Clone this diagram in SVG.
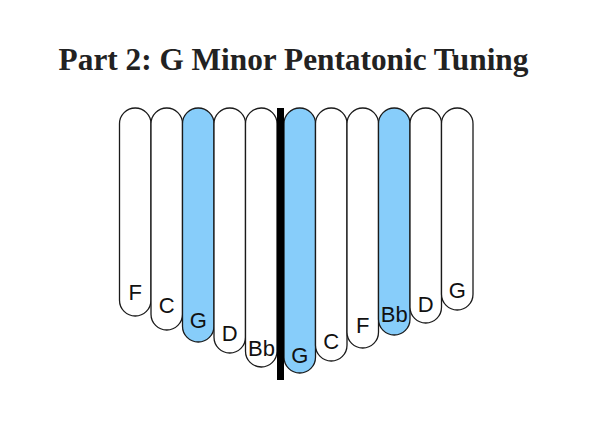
<svg xmlns="http://www.w3.org/2000/svg" width="600" height="425" viewBox="0 0 600 425">
<style>
.tine{stroke:#1a1a1a;stroke-width:1.3;fill:#ffffff}
.blue{fill:#87cdfa}
.lbl{font-family:"Liberation Sans",Arial,sans-serif;font-size:22px;fill:#111;text-anchor:middle}
.title{font-family:"Liberation Serif","Times New Roman",serif;font-size:31.3px;font-weight:bold;fill:#222;text-anchor:middle}
</style>
<rect width="600" height="425" fill="#ffffff"/>
<text class="title" x="293.5" y="69.5">Part 2: G Minor Pentatonic Tuning</text>
<g id="tine-F1"><rect class="tine" x="119.5" y="108" width="31.5" height="208" rx="15.75"/><text class="lbl" x="135.25" y="300">F</text></g>
<g id="tine-C1"><rect class="tine" x="151" y="108" width="31.5" height="222" rx="15.75"/><text class="lbl" x="166.75" y="313">C</text></g>
<g id="tine-G1"><rect class="tine blue" x="182.5" y="108" width="31.5" height="234" rx="15.75"/><text class="lbl" x="198.25" y="328">G</text></g>
<g id="tine-D1"><rect class="tine" x="214" y="108" width="31.5" height="245" rx="15.75"/><text class="lbl" x="229.75" y="341">D</text></g>
<g id="tine-Bb1"><rect class="tine" x="245.5" y="108" width="31.5" height="259" rx="15.75"/><text class="lbl" x="261.5" y="356">Bb</text></g>
<g id="tine-G2"><rect class="tine blue" x="284" y="108" width="31.5" height="265" rx="15.75"/><text class="lbl" x="299.75" y="363">G</text></g>
<g id="tine-C2"><rect class="tine" x="315.5" y="108" width="31.5" height="253" rx="15.75"/><text class="lbl" x="331.25" y="349">C</text></g>
<g id="tine-F2"><rect class="tine" x="347" y="108" width="31.5" height="240" rx="15.75"/><text class="lbl" x="362.75" y="333">F</text></g>
<g id="tine-Bb2"><rect class="tine blue" x="378.5" y="108" width="31.5" height="227" rx="15.75"/><text class="lbl" x="394.25" y="322">Bb</text></g>
<g id="tine-D2"><rect class="tine" x="410" y="108" width="31.5" height="215" rx="15.75"/><text class="lbl" x="425.75" y="312">D</text></g>
<g id="tine-G3"><rect class="tine" x="441.5" y="108" width="31.5" height="202" rx="15.75"/><text class="lbl" x="457.25" y="298">G</text></g>
<g id="connectors"></g>
<g id="bridge"><rect x="277" y="108" width="7" height="272" fill="#000"/></g>
</svg>
